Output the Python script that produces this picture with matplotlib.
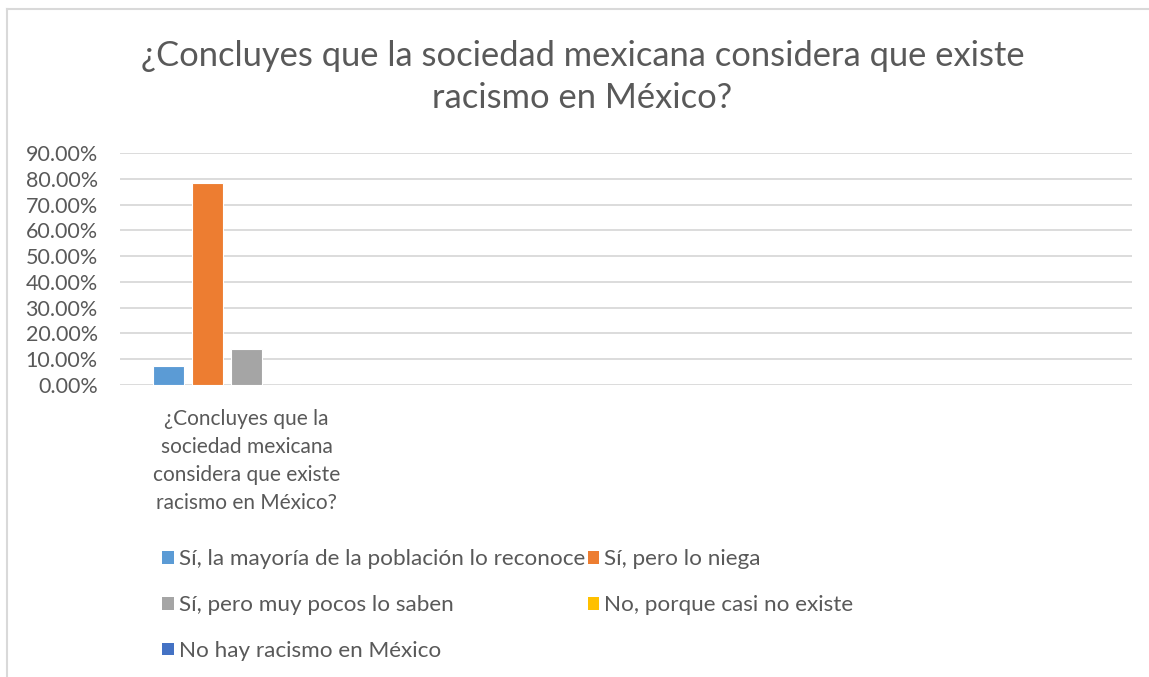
import matplotlib
matplotlib.use('Agg')
import matplotlib.pyplot as plt
from matplotlib.patches import Patch
from matplotlib.ticker import FuncFormatter
import numpy as np

plt.rcParams['font.family'] = ['Lato', 'DejaVu Sans']

# Data
title = '¿Concluyes que la sociedad mexicana considera que existe\nracismo en México?'
categories = ['¿Concluyes que la\nsociedad mexicana\nconsidera que existe\nracismo en México?', '', '', '']
series_names = ['Sí, la mayoría de la población lo reconoce',
                'Sí, pero lo niega',
                'Sí, pero muy pocos lo saben',
                'No, porque casi no existe',
                'No hay racismo en México']
series_values = [[0.075, np.nan, np.nan, np.nan],
                 [0.784, np.nan, np.nan, np.nan],
                 [0.141, np.nan, np.nan, np.nan],
                 [0.0, np.nan, np.nan, np.nan],
                 [0.0, np.nan, np.nan, np.nan]]
colors = ['#5B9BD5', '#ED7D31', '#A5A5A5', '#FFC000', '#4472C4']
y_ticks = [0.0, 0.1, 0.2, 0.3, 0.4, 0.5, 0.6, 0.7, 0.8, 0.9]

text_color = '#595959'

fig = plt.figure(figsize=(11.49, 6.77), dpi=100)
ax = fig.add_axes([120 / 1149, 1 - 385 / 677, 1012 / 1149, 232 / 677])

x = np.arange(len(categories)) + 0.5
step = 0.154
width = 0.125
for i, (name, vals) in enumerate(zip(series_names, series_values)):
    ax.bar(x + (i - 2) * step, vals, width, color=colors[i], edgecolor='white',
           linewidth=0.8, label=name, zorder=3)

ax.set_xlim(0, len(categories))
ax.set_ylim(0, 0.9)
ax.set_yticks(y_ticks)
ax.yaxis.set_major_formatter(FuncFormatter(lambda v, p: f'{v * 100:.2f}%'))
ax.set_xticks(x)
ax.set_xticklabels(categories, linespacing=1.5)
ax.tick_params(axis='y', length=0, labelsize=15.5, labelcolor=text_color, pad=16)
ax.tick_params(axis='x', length=0, labelsize=15, labelcolor=text_color, pad=17)
ax.grid(axis='y', color='#D9D9D9', linewidth=1.3, zorder=0)
for s in ax.spines.values():
    s.set_visible(False)

fig.text(0.507, 1 - 77 / 677, title, ha='center', va='center', fontsize=24.8,
         color=text_color, linespacing=1.4)

# Chart border (top and left visible)
fig.add_artist(plt.Line2D([7 / 1149, 1], [1 - 9 / 677, 1 - 9 / 677], color='#D9D9D9', linewidth=1.5))
fig.add_artist(plt.Line2D([7 / 1149, 7 / 1149], [0, 1 - 9 / 677], color='#D9D9D9', linewidth=1.5))

handles = [Patch(facecolor=c) for c in colors]
order = [0, 2, 4, 1, 3]
leg = fig.legend([handles[k] for k in order], [series_names[k] for k in order],
                 ncol=2, loc='upper left', bbox_to_anchor=(151 / 1149, 1 - 538 / 677),
                 frameon=False, fontsize=16.2, labelcolor=text_color,
                 handlelength=0.5, handleheight=0.5, handletextpad=0.25,
                 labelspacing=1.15, columnspacing=0.1, borderpad=0)

fig.savefig('out.png', dpi=100, facecolor='white')
